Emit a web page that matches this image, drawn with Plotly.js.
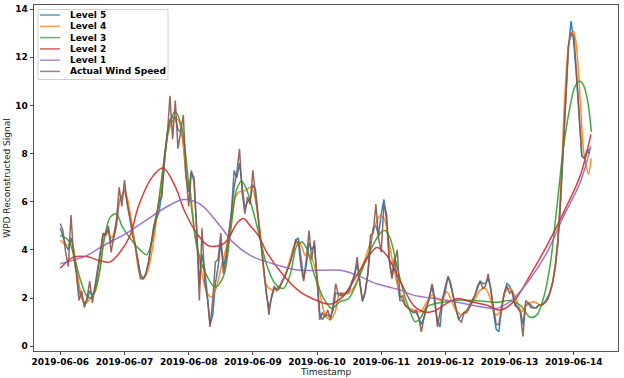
<!DOCTYPE html>
<html>
<head>
<meta charset="utf-8">
<script src="https://cdn.plot.ly/plotly-3.0.1.min.js"></script>
<style>html,body{margin:0;padding:0;background:#fff;}#chart{width:624px;height:378px;}</style>
</head>
<body>
<div id="chart"></div>
<script>
// ---------- DATA (hours since 2019-06-06 00:00) ----------
const startDay = 6;
// Actual wind speed, hourly from 2019-06-06 00:00
const actualValues = [5.1,4.8,3.9,3.3,5.45,3.7,3.0,1.9,2.3,1.6,2.0,2.7,1.8,2.5,3.2,4.0,4.7,4.6,5.0,3.9,4.6,5.2,6.6,5.8,
 6.9,5.9,5.3,4.6,4.2,3.4,2.8,2.8,3.0,3.5,4.3,5.0,5.5,6.0,6.2,7.8,8.7,10.4,8.6,10.2,8.2,9.0,9.6,7.2,
 5.8,7.2,7.0,4.8,1.9,4.9,2.7,2.0,0.8,1.9,3.5,3.6,4.7,3.0,3.6,4.7,5.5,6.6,7.2,8.2,6.4,5.5,6.2,5.9,
 7.3,6.3,5.3,4.2,3.2,2.3,1.3,2.1,2.5,2.3,2.4,2.7,2.9,3.2,3.5,3.9,4.4,4.3,3.3,2.7,3.6,4.8,3.6,4.4,
 2.6,1.1,1.4,1.2,1.5,1.1,1.7,2.6,2.1,2.2,2.1,2.2,2.3,2.7,2.9,3.7,2.6,1.85,2.3,3.0,4.6,4.7,5.9,4.5,
 3.9,5.9,5.5,3.6,2.8,3.5,4.0,2.0,2.1,1.7,1.6,1.5,1.4,1.5,1.2,0.6,1.2,1.6,2.0,2.6,2.0,0.8,1.4,2.0,
 2.3,2.9,2.5,2.0,1.5,1.1,1.0,1.4,1.4,1.6,1.9,2.1,2.4,2.7,2.4,2.5,3.0,2.3,1.5,0.9,0.9,1.6,2.2,2.5,
 2.2,2.3,1.7,1.6,1.4,0.4,1.9,1.8,1.6,1.6,1.6,1.7,1.7,1.8,1.9,2.2,2.6,3.3,4.3,6.0,8.2,10.5,12.5,13.0,
 12.9,11.4,9.4,7.9,7.8,8.1,8.0];
// Level 5, hourly from 2019-06-06 00:00
const level5Values = [4.9,4.5,4.2,4.0,4.5,4.0,3.2,2.3,2.0,1.8,1.9,2.3,2.1,2.4,3.1,3.9,4.6,4.7,4.8,4.3,4.5,5.0,6.0,6.2,
 6.5,6.0,5.4,4.7,4.1,3.5,3.0,2.8,3.0,3.5,4.2,5.0,5.3,5.6,6.5,7.7,8.9,9.4,9.5,9.5,9.0,8.9,8.6,7.0,
 6.4,7.3,6.8,4.9,2.6,3.8,3.2,2.1,0.9,1.3,2.6,3.3,4.3,3.3,3.8,4.6,5.6,7.3,7.0,7.6,6.6,5.7,6.0,6.1,
 6.7,6.5,5.4,4.3,3.2,2.2,1.6,2.0,2.4,2.4,2.5,2.7,2.9,3.2,3.5,3.9,4.4,4.5,3.7,2.8,3.4,4.3,4.0,4.2,
 2.8,1.4,1.1,1.3,1.3,1.2,1.5,2.2,2.2,2.1,2.2,2.2,2.3,2.6,3.0,3.4,2.7,1.9,2.2,3.0,4.1,4.9,5.0,4.6,
 5.5,6.1,5.2,3.6,2.9,3.7,2.7,1.9,1.9,1.7,1.6,1.5,1.4,1.4,1.2,0.9,1.2,1.6,2.1,2.5,1.8,1.1,0.8,2.0,
 2.5,2.9,2.6,2.0,1.5,1.1,1.3,1.4,1.5,1.7,1.9,2.1,2.5,2.7,2.6,2.6,2.8,2.4,1.4,0.7,0.6,1.6,2.2,2.6,
 2.5,2.2,1.8,1.6,1.5,0.9,1.7,1.8,1.7,1.6,1.6,1.7,1.7,1.8,2.0,2.2,2.6,3.2,4.2,5.8,8.0,10.4,12.4,13.5,
 12.6,11.2,9.4,7.9,7.8,8.1,8.2];
// Level 4
const level4Hours = [0,2.4,4.2,6.1,8,9.2,11.1,13,14.8,16.7,17.9,19.2,20.4,22.3,24.2,26.1,28,29.8,31.1,32.9,34.8,36.7,38.5,40.4,42.3,44.1,46,47.3,48.5,50.4,52.9,54.7,56.6,58.5,60.3,62.2,64.1,65.5,66.7,69.2,71.1,72,73.5,75.4,76.6,78.1,79.7,81.6,84.1,86,87.9,89.7,91.6,93.4,95.3,97.2,99.1,100.9,102.8,104.6,107.8,110.2,112.7,115.2,117.7,119.6,121.1,122.7,124.5,126.4,128.9,132,134.6,137.1,139,140.8,142.7,144.5,146.4,148.3,150.2,152.6,155.1,157,158.9,160.8,162.7,164.5,166.4,168.3,170.8,172.6,174.5,177,179.5,182,184.4,186,187.5,188.7,190.4,192,193.1,194.4,195.6,196.6,197.5,198.5];
const level4Values = [4.4,4.2,4.3,3.2,2.04,1.76,1.97,2.25,3.2,4.6,4.7,4.5,4.86,6.1,6.4,5.55,4.17,2.93,2.8,3.2,4.3,5.96,7.48,8.86,9.4,9.4,8.3,6.9,6.5,4.58,3.07,2.25,2.04,2.5,3.35,4.17,5.28,6.2,6.4,6.46,6.6,6.5,5.7,4.05,2.67,2.4,2.33,2.4,2.95,3.64,4.26,4.26,3.77,3.75,3.22,2.12,1.3,1.09,1.43,2.19,2.19,2.53,3.22,4.05,5.0,5.43,5.3,4.46,3.36,2.4,1.7,1.5,1.43,1.85,2.12,1.98,1.9,2.26,1.85,1.43,1.3,1.57,1.98,2.33,2.4,1.98,1.3,1.43,2.26,2.4,1.85,1.43,1.7,1.85,1.7,1.91,2.8,4.4,7.5,10.5,12.7,13.07,12.3,10.25,8.2,7.5,7.15,7.8];
// Level 3
const level3Hours = [0,3,5,7.4,9.9,11.7,14.2,16.7,18.6,21,23,26,29.8,32.3,35.4,37.9,40.4,42.9,45.4,47.9,51,54,57.9,61,63.5,65.9,67.8,69.7,72.2,74.7,77.2,80.3,83.4,85.9,88.5,90.3,92.2,94.7,98.5,101.6,104.6,107.8,111.5,115.9,120,121.5,123.4,125.8,128.3,130.8,132.7,134.6,137.1,140.8,144.5,148.3,152,157,163.3,168.3,172,175.7,178.2,180.7,183.2,185.7,188.2,190.7,192.5,194.3,195.8,197.3,198.6];
const level3Values = [4.6,4.4,3.8,2.8,2.1,2.0,2.8,4.6,5.35,5.5,5.0,4.5,4.0,3.8,5.0,6.9,9.0,9.75,9.1,6.9,4.2,3.1,2.45,2.9,4.6,6.5,6.85,6.5,5.56,4.46,3.36,2.6,2.4,2.95,4.2,4.33,4.05,3.07,1.98,1.57,1.85,1.98,2.8,3.98,4.74,4.8,4.46,3.36,2.26,1.43,1.02,1.16,1.64,1.78,1.85,1.91,1.91,1.88,1.82,1.9,1.7,1.2,1.3,2.0,3.4,5.8,8.3,10.0,10.8,11.0,10.8,10.1,8.9];
// Level 2
const level2Hours = [0,4.9,9.8,14.8,18.6,22.3,26.1,29.2,34.2,38.5,42.9,46.7,51.6,55.4,59.1,61.6,64,66,68.5,71,74,77.2,83.4,89.7,95.9,100,102.1,105.9,110.9,115.9,118.4,122.1,127.1,132,135.8,139.5,144.5,148.9,153.2,159.5,164.4,169.5,175.7,182,188.2,194.4,198.4];
const level2Values = [3.24,3.7,3.72,3.55,3.5,3.9,4.6,5.8,7.0,7.4,6.65,5.55,4.6,4.17,4.17,4.3,4.7,5.1,5.3,5.0,4.6,3.9,2.95,2.26,1.9,1.75,1.78,2.1,2.95,3.84,4.1,3.77,2.7,1.7,1.43,1.45,1.78,1.98,1.85,1.7,1.5,1.85,2.95,4.19,5.56,7.08,8.8];
// Level 1
const level1Hours = [0,9.9,16,24.2,31.7,39.2,46,52.3,59.7,64.7,71,77.2,83.4,89.7,95.9,104.6,110.9,118,127,132,144.5,157,163.3,169.5,175.7,182,188.2,194.4,198.4];
const level1Values = [3.42,3.76,4.17,4.65,5.2,5.75,6.09,5.9,5.0,4.3,3.77,3.5,3.3,3.15,3.15,3.15,2.95,2.6,2.33,2.12,1.91,1.64,1.57,1.98,2.8,3.9,5.4,6.8,8.3];

const tickDays = ['2019-06-06','2019-06-07','2019-06-08','2019-06-09','2019-06-10','2019-06-11','2019-06-12','2019-06-13','2019-06-14'];
const yTicks = [0,2,4,6,8,10,12,14];
const seriesNames = ['Level 5','Level 4','Level 3','Level 2','Level 1','Actual Wind Speed'];
const seriesColors = ['#1f77b4','#ff7f0e','#2ca02c','#d62728','#9467bd','#8c564b'];

// ---------- helpers ----------
function pad(n){return (n<10?'0':'')+n;}
function hToDate(h){
  const tm = Math.round(h*60);
  const d = startDay + Math.floor(tm/1440);
  const rem = tm % 1440;
  return '2019-06-' + pad(d) + ' ' + pad(Math.floor(rem/60)) + ':' + pad(rem%60);
}
const hourly = n => Array.from({length:n},(_,i)=>hToDate(i));

const traces = [
  {x: hourly(level5Values.length), y: level5Values, shape:'linear'},
  {x: level4Hours.map(hToDate), y: level4Values, shape:'spline'},
  {x: level3Hours.map(hToDate), y: level3Values, shape:'spline'},
  {x: level2Hours.map(hToDate), y: level2Values, shape:'spline'},
  {x: level1Hours.map(hToDate), y: level1Values, shape:'spline'},
  {x: hourly(actualValues.length), y: actualValues, shape:'linear'}
].map((t,i)=>({
  type:'scatter', mode:'lines', x:t.x, y:t.y, name:seriesNames[i],
  line:{color:seriesColors[i], width:1.5, shape:t.shape, smoothing:0.9},
  opacity:0.9, showlegend:false, hoverinfo:'skip'
}));

// ---------- custom legend (matplotlib-like compact) ----------
const L = 34, R = 6, T = 5, B = 27, W = 624, H = 378;
const pw = W - L - R, ph = H - T - B;
const px2x = p => (p - L)/pw;
const py2y = p => (H - B - p)/ph;
const shapes = [{type:'rect', xref:'paper', yref:'paper', x0:px2x(38), x1:px2x(168), y0:py2y(79.5), y1:py2y(9.5),
  fillcolor:'rgba(255,255,255,0.85)', line:{color:'#d0d0d0', width:1}, layer:'above'}];
const annotations = [];
const rowY = [15, 26.3, 37.6, 48.9, 60.2, 71.4];
seriesNames.forEach((n,i)=>{
  shapes.push({type:'line', xref:'paper', yref:'paper', x0:px2x(40), x1:px2x(60), y0:py2y(rowY[i]), y1:py2y(rowY[i]),
    line:{color:seriesColors[i], width:1.5}, opacity:0.75, layer:'above'});
  annotations.push({xref:'paper', yref:'paper', x:px2x(68), y:py2y(rowY[i]), xanchor:'left', yanchor:'middle',
    text:'<b>'+n+'</b>', showarrow:false, font:{family:'DejaVu Sans', size:9, color:'#000'}});
});
// x-axis title as annotation, at the very bottom under the tick labels
annotations.push({xref:'paper', yref:'paper', x:px2x(326), y:py2y(378), xanchor:'center', yanchor:'bottom',
  text:'Timestamp', showarrow:false, borderpad:0, font:{family:'DejaVu Sans', size:9, color:'#222'}});

const layout = {
  width:W, height:H,
  margin:{l:L, r:R, t:T, b:B, pad:0},
  paper_bgcolor:'#fff', plot_bgcolor:'#fff',
  showlegend:false,
  font:{family:'DejaVu Sans', color:'#000'},
  xaxis:{
    type:'date', range:['2019-06-05 14:10','2019-06-14 16:32'],
    tickvals: tickDays, ticktext: tickDays.map(d=>'<b>'+d+'</b>'),
    ticks:'outside', ticklen:2.5, tickcolor:'#444', tickwidth:1,
    showline:true, mirror:true, linecolor:'#555', linewidth:1,
    showgrid:false, zeroline:false,
    tickfont:{family:'DejaVu Sans', size:9, color:'#000'},
    automargin:false
  },
  yaxis:{
    range:[-0.2,14.17],
    tickvals:yTicks, ticktext:yTicks.map(v=>'<b>'+v+'</b>'),
    ticks:'outside', ticklen:3.5, tickcolor:'#444', tickwidth:1,
    showline:true, mirror:true, linecolor:'#555', linewidth:1,
    showgrid:false, zeroline:false,
    tickfont:{family:'DejaVu Sans', size:9, color:'#000'},
    title:{text:'WPD Reconstructed Signal', font:{family:'DejaVu Sans', size:9, color:'#222'}, standoff:3},
    automargin:false
  },
  shapes:shapes,
  annotations:annotations
};

Plotly.newPlot('chart', traces, layout, {staticPlot:true, displayModeBar:false});
</script>
</body>
</html>
